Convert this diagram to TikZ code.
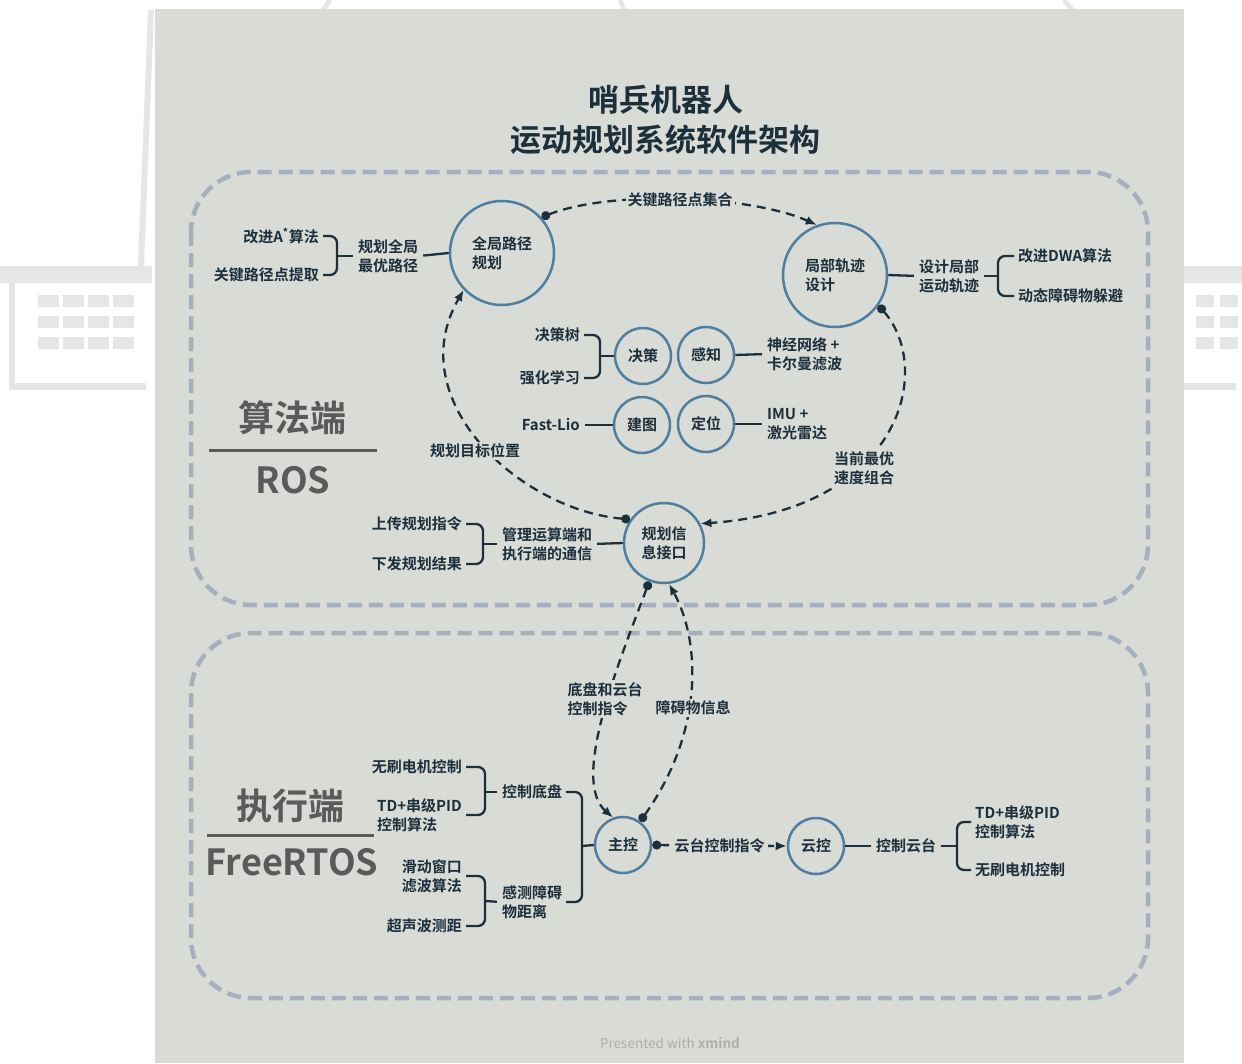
\documentclass[tikz,border=0pt]{standalone}
\usepackage{fontspec}
\setmainfont{Noto Sans CJK SC}[BoldFont={Noto Sans CJK SC Bold}]
\usetikzlibrary{arrows.meta,calc}

\definecolor{panel}{RGB}{216,219,214}
\definecolor{ink}{RGB}{30,47,60}
\definecolor{ring}{RGB}{78,127,160}
\definecolor{zone}{RGB}{166,175,190}
\definecolor{sidegray}{RGB}{90,90,90}
\definecolor{wm}{RGB}{230,230,230}
\definecolor{foot}{RGB}{172,176,172}

\tikzset{
  lbl/.style={font=\bfseries\fontsize{15}{19}\selectfont, text=ink, inner sep=1pt, align=left},
  hub/.style={circle, draw=ring, line width=2.5pt, inner sep=0pt, align=left,
              font=\bfseries\fontsize{15}{19}\selectfont, text=ink},
  big/.style={hub, minimum size=104pt},
  mid/.style={hub, minimum size=80pt},
  small/.style={hub, minimum size=56pt},
  tie/.style={draw=ink, line width=2.3pt},
  brace/.style={tie, rounded corners=7pt, shorten <=3pt, shorten >=3pt},
  flow/.style={draw=ink, line width=2.3pt, dash pattern=on 9pt off 6pt,
               {Circle[length=9pt]}-{Latex[length=11pt,width=9pt]}},
  flowlbl/.style={lbl, fill=panel, inner sep=2pt},
  zoneline/.style={draw=zone, line width=4.5pt, dash pattern=on 14pt off 7pt, rounded corners=60pt},
  side/.style={font=\bfseries\fontsize{36}{40}\selectfont, text=sidegray, inner sep=0pt},
}

\begin{document}
\begin{tikzpicture}[x=1pt,y=-1pt]
\useasboundingbox (0,0) rectangle (1242,1063);

% faint emblem marks around the sheet
\fill[wm] (0,266) rectangle (152,283);
\fill[wm] (9,283) rectangle (15,390);
\fill[wm] (9,383) rectangle (146,390);
\foreach \cx in {38,63,88,113}
  \foreach \cy in {295,316,337}
    \fill[wm] (\cx,\cy) rectangle ++(21,12);
\fill[wm] (1184,266) rectangle (1242,283);
\fill[wm] (1184,383) rectangle (1236,390);
\foreach \cx in {1196,1220}
  \foreach \cy in {295,316,337}
    \fill[wm] (\cx,\cy) rectangle ++(18,12);
\draw[wm, line width=6pt] (151,10) -- (141,266);
\draw[wm, line width=5pt] (330,0) -- (316,22);
\draw[wm, line width=5pt] (1064,0) -- (1090,32);
\draw[wm, line width=4pt] (620,0) -- (626,14);

% sheet
\fill[panel] (155,9) rectangle (1184,1063);

% title
\node[font=\bfseries\fontsize{31}{40}\selectfont, text=ink] (t1) at (666,100) {哨兵机器人};
\node[font=\bfseries\fontsize{31}{40}\selectfont, text=ink] (t2) at (665,140) {运动规划系统软件架构};

% the two dashed zones
\draw[zoneline] (191,172) rectangle (1148,605);
\draw[zoneline] (191,633) rectangle (1148,998);

% zone captions
\node[side] (za) at (292,418) {算法端};
\draw[sidegray, line width=3pt] (209,450) -- (377,450);
\node[side] (zb) at (293,480) {ROS};
\node[side] (zc) at (290,806) {执行端};
\draw[sidegray, line width=3pt] (207,835) -- (374,835);
\node[side] (zd) at (292,862) {FreeRTOS};

% ---------- planning side ----------
\node[big] (G) at (502,253) {全局路径\\规划};
\node[big] (L) at (835,275) {局部轨迹\\设计};
\node[mid] (I) at (664,543) {规划信\\息接口};
\node[small] (D) at (643,356) {决策};
\node[small] (P) at (706,355) {感知};
\node[small] (B) at (642,425) {建图};
\node[small] (C) at (706,424) {定位};

% global planner branch
\node[lbl] (gp) at (388,256) {规划全局\\最优路径};
\node[lbl, anchor=east] (ga) at (320,236) {改进A\textsuperscript{*}算法};
\node[lbl, anchor=east] (gb) at (320,275) {关键路径点提取};
\coordinate (gk) at (337,256);
\draw[brace] (ga.east) -- (ga.east -| gk) -- (gb.east -| gk) -- (gb.east);
\draw[tie, shorten >=4pt] (gk) -- (gp.west);
\draw[tie, shorten <=4pt] (gp.east) -- (G.west);

% local planner branch
\node[lbl] (lp) at (949,276) {设计局部\\运动轨迹};
\node[lbl, anchor=west] (la) at (1017,256) {改进DWA算法};
\node[lbl, anchor=west] (lb) at (1017,296) {动态障碍物躲避};
\coordinate (lk) at (998,276);
\draw[tie, shorten >=4pt] (L.east) -- (lp.west);
\draw[tie, shorten <=4pt] (lp.east) -- (lk);
\draw[brace] (la.west) -- (la.west -| lk) -- (lb.west -| lk) -- (lb.west);

% interface branch
\node[lbl] (ip) at (547,544) {管理运算端和\\执行端的通信};
\node[lbl, anchor=east] (ia) at (463,524) {上传规划指令};
\node[lbl, anchor=east] (ib) at (463,564) {下发规划结果};
\coordinate (ik) at (483,544);
\draw[brace] (ia.east) -- (ia.east -| ik) -- (ib.east -| ik) -- (ib.east);
\draw[tie, shorten >=4pt] (ik) -- (ip.west);
\draw[tie, shorten <=4pt] (ip.east) -- (I.west);

% decision
\node[lbl, anchor=east] (da) at (581,335) {决策树};
\node[lbl, anchor=east] (db) at (581,378) {强化学习};
\coordinate (dk) at (600,356);
\draw[brace] (da.east) -- (da.east -| dk) -- (db.east -| dk) -- (db.east);
\draw[tie] (dk) -- (D.west);

% perception
\node[lbl, anchor=west] (pa) at (766,354) {神经网络 +\\卡尔曼滤波};
\draw[tie, shorten >=4pt] (P.east) -- (pa.west);

% mapping
\node[lbl, anchor=east] (ba) at (581,425) {Fast-Lio};
\draw[tie, shorten <=4pt] (ba.east) -- (B.west);

% localisation
\node[lbl, anchor=west] (ca) at (766,424) {IMU +\\激光雷达};
\draw[tie, shorten >=4pt] (C.east) -- (ca.west);

% data flow inside the planner
\draw[flow] (G.42) .. controls (610,190) and (750,195) .. (L.110);
\draw[flow] (L.-35) .. controls (935,370) and (900,510) .. (I.28);
\draw[flow] (I.145) .. controls (520,510) and (400,400) .. (G.-136);
\node[flowlbl] (f1) at (680,200) {关键路径点集合};
\node[flowlbl] (f2) at (864,468) {当前最优\\速度组合};
\node[flowlbl] (f3) at (475,451) {规划目标位置};

% ---------- execution side ----------
\node[small] (M) at (623,845) {主控};
\node[small] (Y) at (816,846) {云控};

\draw[flow] (I.-111) .. controls (620,660) and (570,780) .. (M.110);
\draw[flow] (M.54) .. controls (705,730) and (700,640) .. (I.-83);
\node[flowlbl] (f4) at (605,699) {底盘和云台\\控制指令};
\node[flowlbl] (f5) at (693,708) {障碍物信息};
\draw[flow] (M.east) -- node[flowlbl, inner sep=3pt] (f6) {云台控制指令} (Y.west);

% main controller branches
\node[lbl] (mc) at (532,792) {控制底盘};
\node[lbl] (ms) at (532,902) {感测障碍\\物距离};
\coordinate (mk) at (582,846);
\draw[brace] (mc.east) -- (mc.east -| mk) -- (ms.east -| mk) -- (ms.east);
\draw[tie] (mk) -- (M.west);

\node[lbl, anchor=east] (mc1) at (463,767) {无刷电机控制};
\node[lbl, anchor=east] (mc2) at (463,815) {TD+串级PID\\控制算法};
\coordinate (mck) at (485,792);
\draw[brace] (mc1.east) -- (mc1.east -| mck) -- (mc2.east -| mck) -- (mc2.east);
\draw[tie, shorten >=4pt] (mck) -- (mc.west);

\node[lbl, anchor=east] (ms1) at (463,876) {滑动窗口\\滤波算法};
\node[lbl, anchor=east] (ms2) at (463,926) {超声波测距};
\coordinate (msk) at (485,901);
\draw[brace] (ms1.east) -- (ms1.east -| msk) -- (ms2.east -| msk) -- (ms2.east);
\draw[tie, shorten >=4pt] (msk) -- (ms.west);

% gimbal controller branch
\node[lbl] (yc) at (906,846) {控制云台};
\coordinate (yk) at (957,846);
\node[lbl, anchor=west] (y1) at (974,822) {TD+串级PID\\控制算法};
\node[lbl, anchor=west] (y2) at (974,870) {无刷电机控制};
\draw[tie, shorten >=4pt] (Y.east) -- (yc.west);
\draw[tie, shorten <=4pt] (yc.east) -- (yk);
\draw[brace] (y1.west) -- (y1.west -| yk) -- (y2.west -| yk) -- (y2.west);

% footer
\node[font=\fontsize{13.5}{16}\selectfont, text=foot] (ft) at (670,1043) {Presented with \textbf{xmind}};
\end{tikzpicture}
\end{document}
